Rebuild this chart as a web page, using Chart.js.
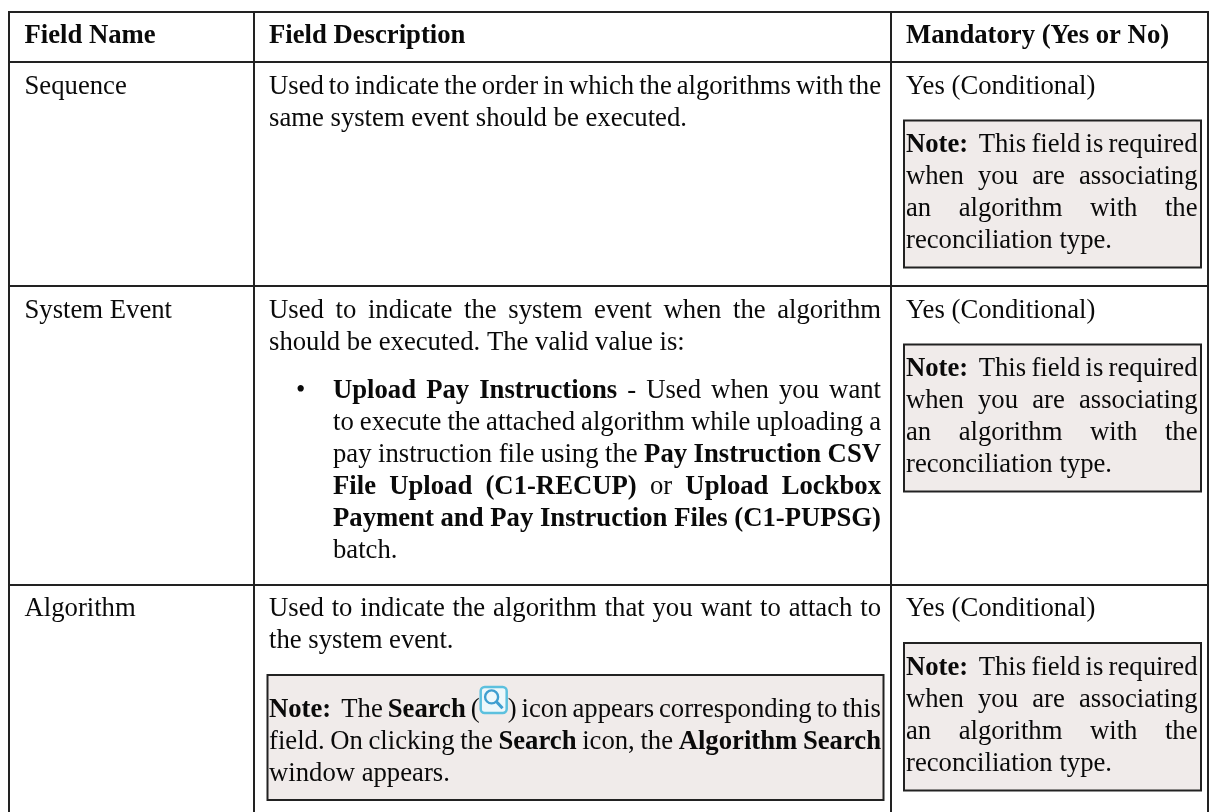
<!DOCTYPE html>
<html><head><meta charset="utf-8">
<style>html,body{margin:0;padding:0;background:#fff}canvas{display:block}</style>
<script src="https://cdn.jsdelivr.net/npm/chart.js@4/dist/chart.umd.js"></script>
</head><body>
<canvas id="c" width="1209" height="812"></canvas>
<script>
// ---- table content ----
const headers = ["Field Name", "Field Description", "Mandatory (Yes or No)"];
const fieldNames = ["Sequence", "System Event", "Algorithm"];
const mandatoryValue = "Yes (Conditional)";
const mandatoryNote = [
  "**Note:**  This field is required",
  "when you are associating",
  "an algorithm with the",
  "reconciliation type."
];
const sequenceDescription = [
  "Used to indicate the order in which the algorithms with the",
  "same system event should be executed."
];
const systemEventDescription = [
  "Used to indicate the system event when the algorithm",
  "should be executed. The valid value is:"
];
const systemEventBullet = [
  "**Upload Pay Instructions** - Used when you want",
  "to execute the attached algorithm while uploading a",
  "pay instruction file using the **Pay Instruction CSV**",
  "**File Upload (C1-RECUP)** or **Upload Lockbox**",
  "**Payment and Pay Instruction Files (C1-PUPSG)**",
  "batch."
];
const algorithmDescription = [
  "Used to indicate the algorithm that you want to attach to",
  "the system event."
];
const algorithmNote = [
  "**Note:**  The **Search** ({icon}) icon appears corresponding to this",
  "field. On clicking the **Search** icon, the **Algorithm Search**",
  "window appears."
];

// ---- table layout, in page pixels (the axes run in the same units) ----
const columnEdges = [9, 254, 891, 1207.5];
const rowEdges = [12, 61.5, 285.5, 584.5];
const noteBoxes = [
  [904, 120.5, 1201, 267.5],
  [904, 344.5, 1201, 491.5],
  [904, 643, 1201, 790.5],
  [267.5, 675, 883.5, 800]
];
const ruleColor = "#222222", noteFill = "#f0ebea", inkColor = "#0a0a0a";
const fontFamily = '"Liberation Serif"', fontSize = 26.7;

// text blocks: lines, left, right, baselines, number of justified lines
const textBlocks = [
  { lines: [headers[0]], bold: true, x0: 24.5, ys: [43] },
  { lines: [headers[1]], bold: true, x0: 269, ys: [43] },
  { lines: [headers[2]], bold: true, x0: 906, ys: [43] },
  { lines: [fieldNames[0]], x0: 24.5, ys: [94] },
  { lines: [fieldNames[1]], x0: 24.5, ys: [318] },
  { lines: [fieldNames[2]], x0: 24.5, ys: [616] },
  { lines: sequenceDescription, x0: 269, x1: 881, justify: 1, ys: [94, 126] },
  { lines: systemEventDescription, x0: 269, x1: 881, justify: 1, ys: [318, 350] },
  { lines: systemEventBullet, x0: 333, x1: 881, justify: 5, ys: [398, 430, 462, 494, 526, 558] },
  { lines: algorithmDescription, x0: 269, x1: 881, justify: 1, ys: [616, 648] },
  { lines: algorithmNote, x0: 269, x1: 881, justify: 2, ys: [717, 749, 781] },
  { lines: [mandatoryValue], x0: 906, ys: [94] },
  { lines: [mandatoryValue], x0: 906, ys: [318] },
  { lines: [mandatoryValue], x0: 906, ys: [616] },
  { lines: mandatoryNote, x0: 906, x1: 1197.5, justify: 3, ys: [152, 184, 216, 248] },
  { lines: mandatoryNote, x0: 906, x1: 1197.5, justify: 3, ys: [376, 408, 440, 472] },
  { lines: mandatoryNote, x0: 906, x1: 1197.5, justify: 3, ys: [675, 707, 739, 771] }
];
const bulletMark = { x: 300, y: 398 };
const iconSize = { w: 28, h: 26, rise: 30, pad: 1 };

function fontOf(bold) { return (bold ? "bold " : "") + fontSize + "px " + fontFamily; }

function piecesOf(line, allBold) {
  const pieces = [];
  line.split("**").forEach((part, i) => {
    const bold = allBold || i % 2 === 1;
    part.split(/(\{icon\}| )/).forEach(tok => {
      if (tok === "") return;
      if (tok === "{icon}") pieces.push({ icon: true });
      else if (tok === " ") pieces.push({ space: true, bold });
      else pieces.push({ text: tok, bold });
    });
  });
  return pieces;
}

function drawIcon(ctx, x, base) {
  const w = iconSize.w - 2 * iconSize.pad, h = iconSize.h;
  const l = x + iconSize.pad, t = base - iconSize.rise;
  ctx.save();
  ctx.fillStyle = "#eef8fb";
  ctx.strokeStyle = "#5cc0de";
  ctx.lineWidth = 2.5;
  ctx.beginPath();
  ctx.roundRect(l, t, w, h, 4);
  ctx.fill(); ctx.stroke();
  ctx.strokeStyle = "#3f9fd0";
  ctx.lineWidth = 2.4;
  ctx.beginPath();
  ctx.arc(l + w * 0.42, t + h * 0.38, 6.5, 0, Math.PI * 2);
  ctx.stroke();
  ctx.lineWidth = 3;
  ctx.beginPath();
  ctx.moveTo(l + w * 0.6, t + h * 0.56);
  ctx.lineTo(l + w * 0.84, t + h * 0.82);
  ctx.stroke();
  ctx.restore();
}

function drawLine(ctx, line, block, y, doJustify) {
  const pieces = piecesOf(line, block.bold);
  let natural = 0, gaps = 0;
  pieces.forEach(p => {
    if (p.icon) p.w = iconSize.w;
    else {
      ctx.font = fontOf(p.bold);
      p.w = ctx.measureText(p.space ? " " : p.text).width;
    }
    natural += p.w;
    if (p.space) gaps++;
  });
  const extra = doJustify && gaps ? (block.x1 - block.x0 - natural) / gaps : 0;
  let x = block.x0;
  pieces.forEach(p => {
    if (p.icon) drawIcon(ctx, x, y);
    else if (!p.space) {
      ctx.font = fontOf(p.bold);
      ctx.fillText(p.text, x, y);
    }
    x += p.w + (p.space ? extra : 0);
  });
}

const tablePlugin = {
  id: "tableBody",
  afterDraw(chart) {
    const { ctx, scales: { x: sx, y: sy } } = chart;
    ctx.save();
    noteBoxes.forEach(([l, t, r, b]) => {
      const x0 = sx.getPixelForValue(l), x1 = sx.getPixelForValue(r);
      const y0 = sy.getPixelForValue(t), y1 = sy.getPixelForValue(b);
      ctx.fillStyle = noteFill;
      ctx.fillRect(x0, y0, x1 - x0, y1 - y0);
      ctx.strokeStyle = ruleColor;
      ctx.lineWidth = 2;
      ctx.strokeRect(x0, y0, x1 - x0, y1 - y0);
    });
    ctx.fillStyle = inkColor;
    ctx.textBaseline = "alphabetic";
    ctx.textAlign = "left";
    textBlocks.forEach(b => {
      b.lines.forEach((ln, i) => {
        drawLine(ctx, ln, b, sy.getPixelForValue(b.ys[i]), i < (b.justify || 0));
      });
    });
    ctx.font = fontOf(false);
    ctx.fillText("•", sx.getPixelForValue(bulletMark.x) - 4, sy.getPixelForValue(bulletMark.y));
    ctx.restore();
  }
};

const gridOpts = { color: ruleColor, lineWidth: 2, drawTicks: false, drawOnChartArea: true };
new Chart(document.getElementById("c"), {
  type: "scatter",
  data: { datasets: [{ data: [] }] },
  plugins: [tablePlugin],
  options: {
    responsive: false,
    animation: false,
    events: [],
    layout: { padding: { left: 8, top: 11, right: 0.5, bottom: 0 } },
    plugins: { legend: { display: false }, tooltip: { enabled: false }, title: { display: false } },
    scales: {
      x: {
        type: "linear", min: 8, max: 1208.5,
        border: { display: false },
        grid: gridOpts,
        ticks: { display: false },
        afterBuildTicks(s) { s.ticks = columnEdges.map(value => ({ value })); }
      },
      y: {
        type: "linear", min: 11, max: 812, reverse: true,
        border: { display: false },
        grid: gridOpts,
        ticks: { display: false },
        afterBuildTicks(s) { s.ticks = rowEdges.map(value => ({ value })); }
      }
    }
  }
});
</script>
</body></html>
